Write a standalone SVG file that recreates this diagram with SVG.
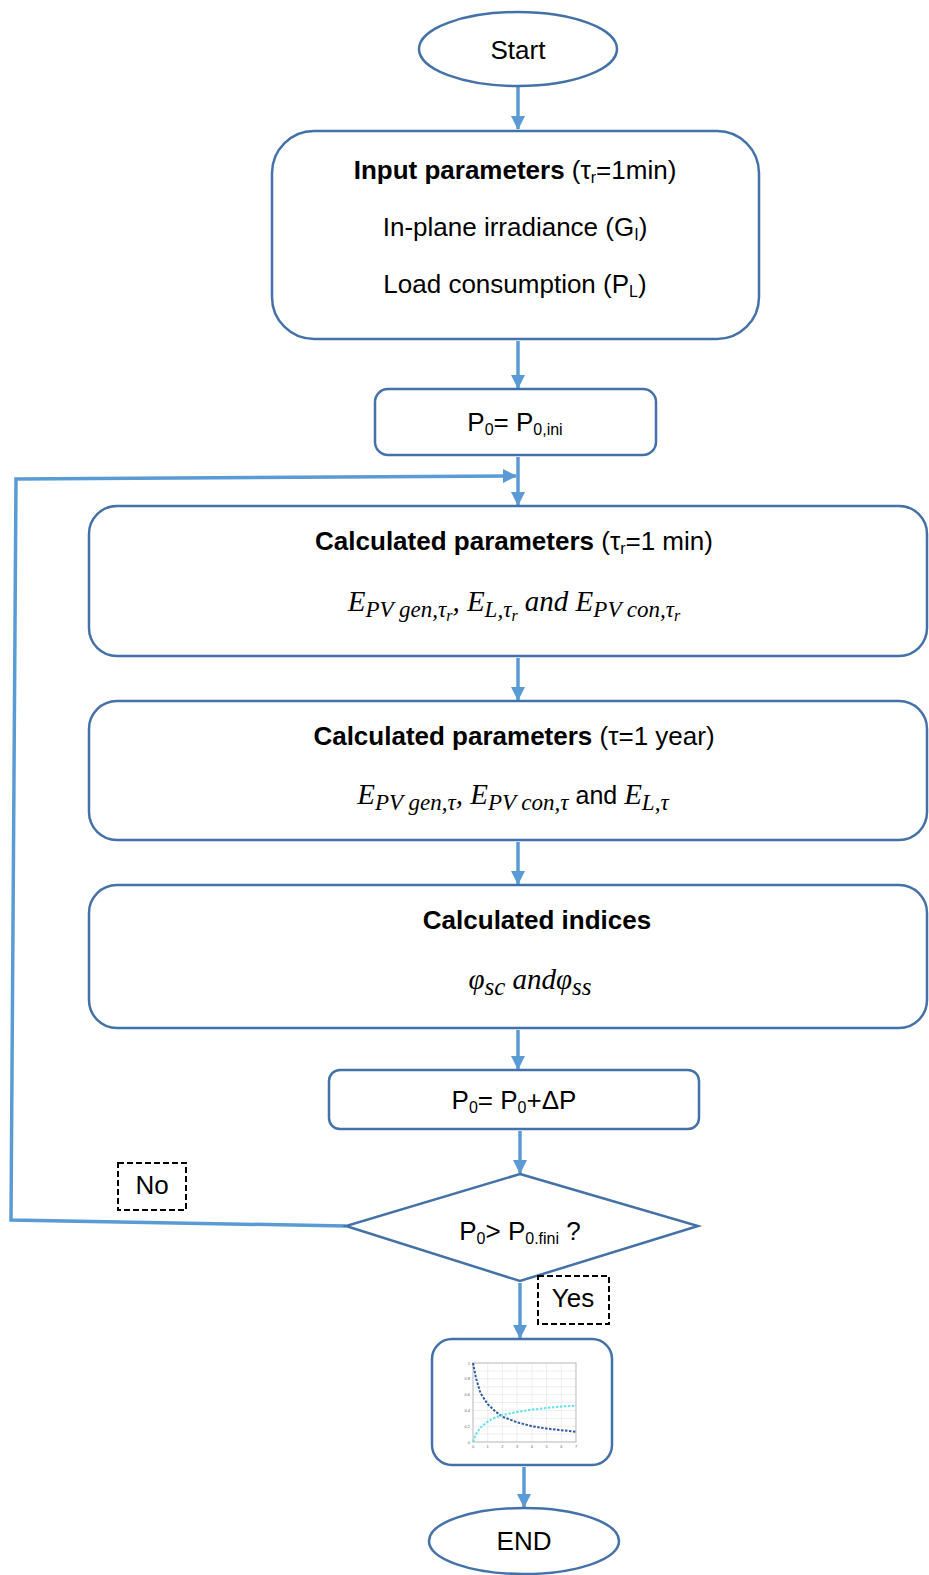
<svg xmlns="http://www.w3.org/2000/svg" width="929" height="1575" viewBox="0 0 929 1575">
<defs>
<style>
.box{fill:#fff;stroke:#4472A8;stroke-width:2.5}
.conn{fill:none;stroke:#5B9BD5;stroke-width:3.5}
.lbl{fill:none;stroke:#000;stroke-width:2;stroke-dasharray:6,3}
.t{font-family:"Liberation Sans",Arial,sans-serif;font-size:26px;fill:#000}
.b{font-weight:bold}
.sub{font-size:16px}
.math{font-family:"Liberation Serif","Times New Roman",serif;font-style:italic;font-size:29px;fill:#000}
.s1{font-size:23px}
.s2{font-size:16px}
.grid{stroke:#e2e2e2;stroke-width:0.6}
.tick{font-family:"Liberation Sans",Arial,sans-serif;font-size:4px;fill:#666}
</style>
<marker id="ah" markerWidth="14" markerHeight="14" refX="13" refY="7" orient="auto" markerUnits="userSpaceOnUse">
<path d="M0,0 L14,7 L0,14 z" fill="#5B9BD5"/>
</marker>
</defs>
<rect width="929" height="1575" fill="#fff"/>

<g id="connectors">
<line class="conn" x1="518" y1="86" x2="518" y2="129" marker-end="url(#ah)"/>
<line class="conn" x1="518" y1="341" x2="518" y2="388" marker-end="url(#ah)"/>
<line class="conn" x1="518" y1="457" x2="518" y2="505" marker-end="url(#ah)"/>
<polyline class="conn" points="346,1226 11,1220 16,479 516,476" marker-end="url(#ah)"/>
<line class="conn" x1="518" y1="658" x2="518" y2="700" marker-end="url(#ah)"/>
<line class="conn" x1="518" y1="842" x2="518" y2="884" marker-end="url(#ah)"/>
<line class="conn" x1="518" y1="1030" x2="518" y2="1069" marker-end="url(#ah)"/>
<line class="conn" x1="520" y1="1131" x2="520" y2="1173" marker-end="url(#ah)"/>
<line class="conn" x1="520" y1="1283" x2="520" y2="1338" marker-end="url(#ah)"/>
<line class="conn" x1="524" y1="1467" x2="524" y2="1507" marker-end="url(#ah)"/>
</g>

<g id="start">
<ellipse class="box" cx="518" cy="49" rx="99" ry="37"/>
<text class="t" x="518" y="59" text-anchor="middle" font-size="27">Start</text>
</g>

<g id="input">
<rect class="box" x="272" y="131" width="487" height="208" rx="42"/>
<text class="t" x="515" y="179" text-anchor="middle"><tspan class="b">Input parameters</tspan> (τ<tspan class="sub" dy="4">r</tspan><tspan dy="-4">=1min)</tspan></text>
<text class="t" x="515" y="236" text-anchor="middle">In-plane irradiance (G<tspan class="sub" dy="4">I</tspan><tspan dy="-4">)</tspan></text>
<text class="t" x="515" y="293" text-anchor="middle">Load consumption (P<tspan class="sub" dy="4">L</tspan><tspan dy="-4">)</tspan></text>
</g>

<g id="p0ini">
<rect class="box" x="375" y="389" width="281" height="66" rx="13"/>
<text class="t" x="515" y="431" text-anchor="middle">P<tspan class="sub" dy="4">0</tspan><tspan dy="-4">= P</tspan><tspan class="sub" dy="4">0,ini</tspan></text>
</g>

<g id="calc1">
<rect class="box" x="89" y="506" width="838" height="150" rx="28"/>
<text class="t" x="514" y="550" text-anchor="middle"><tspan class="b">Calculated parameters</tspan> (τ<tspan class="sub" dy="4">r</tspan><tspan dy="-4">=1 min)</tspan></text>
<text class="math" x="514" y="611" text-anchor="middle">E<tspan class="s1" dy="6">PV gen,τ</tspan><tspan class="s2" dy="4">r</tspan><tspan dy="-10">, E</tspan><tspan class="s1" dy="6">L,τ</tspan><tspan class="s2" dy="4">r</tspan><tspan dy="-10"> and  E</tspan><tspan class="s1" dy="6">PV con,τ</tspan><tspan class="s2" dy="4">r</tspan></text>
</g>

<g id="calc2">
<rect class="box" x="89" y="701" width="838" height="139" rx="28"/>
<text class="t" x="514" y="745" text-anchor="middle"><tspan class="b">Calculated parameters</tspan> (τ=1 year)</text>
<text class="math" x="513" y="804" text-anchor="middle">E<tspan class="s1" dy="6">PV gen,τ</tspan><tspan dy="-6">, E</tspan><tspan class="s1" dy="6">PV con,τ</tspan><tspan dy="-6" font-style="normal" font-family="Liberation Sans, Arial, sans-serif" font-size="25"> and </tspan><tspan>E</tspan><tspan class="s1" dy="6">L,τ</tspan></text>
</g>

<g id="calc3">
<rect class="box" x="89" y="885" width="838" height="143" rx="28"/>
<text class="t b" x="537" y="929" text-anchor="middle">Calculated indices</text>
<text class="math" x="530" y="989" text-anchor="middle" font-size="32">φ<tspan font-size="25" dy="6">sc</tspan><tspan dy="-6"> and</tspan><tspan>φ</tspan><tspan font-size="25" dy="6">ss</tspan></text>
</g>

<g id="p0inc">
<rect class="box" x="329" y="1070" width="370" height="59" rx="11"/>
<text class="t" x="514" y="1109" text-anchor="middle">P<tspan class="sub" dy="4">0</tspan><tspan dy="-4">= P</tspan><tspan class="sub" dy="4">0</tspan><tspan dy="-4">+ΔP</tspan></text>
</g>

<g id="decision">
<polygon class="box" points="520,1174 698,1226 520,1281 346,1226"/>
<text class="t" x="520" y="1240" text-anchor="middle">P<tspan class="sub" dy="4">0</tspan><tspan dy="-4">&gt; P</tspan><tspan class="sub" dy="4">0.fini</tspan><tspan dy="-4"> ?</tspan></text>
</g>

<g id="label-no">
<rect class="lbl" x="118" y="1163" width="68" height="47"/>
<text class="t" x="152" y="1194" text-anchor="middle" font-size="17">No</text>
</g>

<g id="label-yes">
<rect class="lbl" x="538" y="1276" width="71" height="48"/>
<text class="t" x="573" y="1307" text-anchor="middle" font-size="17">Yes</text>
</g>

<g id="result-chart">
<rect class="box" x="432" y="1339" width="180" height="126" rx="20"/>
<g>
<line class="grid" x1="487.7" y1="1363" x2="487.7" y2="1442"/>
<line class="grid" x1="502.4" y1="1363" x2="502.4" y2="1442"/>
<line class="grid" x1="517.1" y1="1363" x2="517.1" y2="1442"/>
<line class="grid" x1="531.9" y1="1363" x2="531.9" y2="1442"/>
<line class="grid" x1="546.6" y1="1363" x2="546.6" y2="1442"/>
<line class="grid" x1="561.3" y1="1363" x2="561.3" y2="1442"/>
<line class="grid" x1="473" y1="1434.1" x2="576" y2="1434.1"/>
<line class="grid" x1="473" y1="1426.2" x2="576" y2="1426.2"/>
<line class="grid" x1="473" y1="1418.3" x2="576" y2="1418.3"/>
<line class="grid" x1="473" y1="1410.4" x2="576" y2="1410.4"/>
<line class="grid" x1="473" y1="1402.5" x2="576" y2="1402.5"/>
<line class="grid" x1="473" y1="1394.6" x2="576" y2="1394.6"/>
<line class="grid" x1="473" y1="1386.7" x2="576" y2="1386.7"/>
<line class="grid" x1="473" y1="1378.8" x2="576" y2="1378.8"/>
<line class="grid" x1="473" y1="1370.9" x2="576" y2="1370.9"/>
<rect x="473" y="1363" width="103" height="79" fill="none" stroke="#999" stroke-width="0.7"/>
<polyline fill="none" stroke="#2E5C9E" stroke-width="2" stroke-dasharray="2.5,1.5" points="473,1363 476,1378 480.4,1393 487.7,1404.1 495.1,1411.2 502.4,1416.7 517.1,1422.3 531.9,1426.2 546.6,1428.6 561.3,1430.2 576,1431.7"/>
<polyline fill="none" stroke="#62E3EE" stroke-width="2" stroke-dasharray="2.5,1.5" points="473,1442 476,1434 480.4,1427.8 487.7,1421.5 495.1,1417.5 502.4,1415.1 517.1,1412 531.9,1409.6 546.6,1408 561.3,1406.5 576,1405.7"/>
<text class="tick" x="473" y="1448" text-anchor="middle">0</text>
<text class="tick" x="487.7" y="1448" text-anchor="middle">1</text>
<text class="tick" x="502.4" y="1448" text-anchor="middle">2</text>
<text class="tick" x="517.1" y="1448" text-anchor="middle">3</text>
<text class="tick" x="531.9" y="1448" text-anchor="middle">4</text>
<text class="tick" x="546.6" y="1448" text-anchor="middle">5</text>
<text class="tick" x="561.3" y="1448" text-anchor="middle">6</text>
<text class="tick" x="576" y="1448" text-anchor="middle">7</text>
<text class="tick" x="470" y="1443.5" text-anchor="end">0</text>
<text class="tick" x="470" y="1427.7" text-anchor="end">0.2</text>
<text class="tick" x="470" y="1411.9" text-anchor="end">0.4</text>
<text class="tick" x="470" y="1396.1" text-anchor="end">0.6</text>
<text class="tick" x="470" y="1380.3" text-anchor="end">0.8</text>
<text class="tick" x="470" y="1364.5" text-anchor="end">1</text>
</g>
</g>

<g id="end">
<ellipse class="box" cx="524" cy="1541" rx="95" ry="33"/>
<text class="t" x="524" y="1550" text-anchor="middle" font-size="24">END</text>
</g>
</svg>
